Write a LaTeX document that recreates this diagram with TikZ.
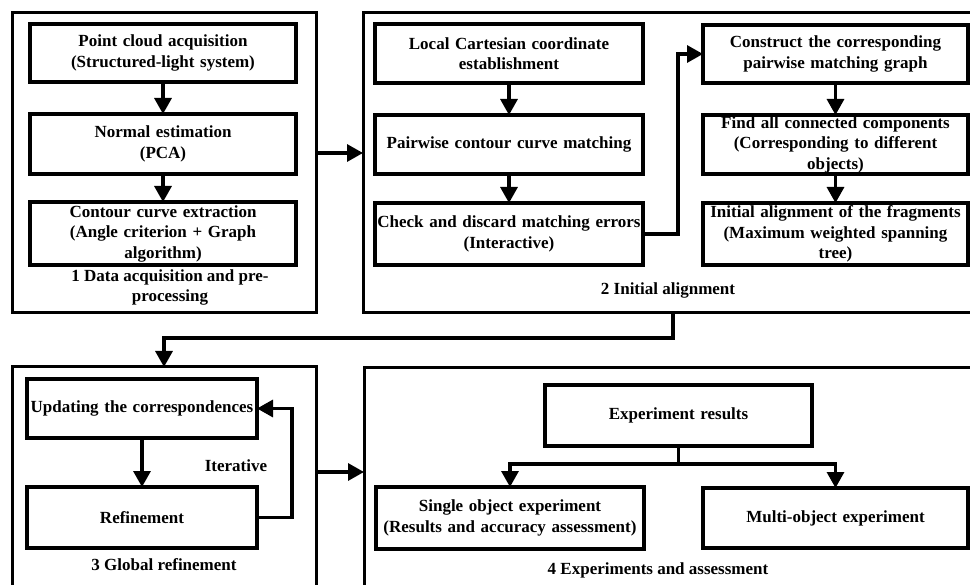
\documentclass[tikz,border=0pt]{standalone}
\usepackage{fontspec}
\setmainfont{Liberation Serif}
\usepackage{tikz}
\usetikzlibrary{arrows.meta,positioning}
\tikzset{
  >={Triangle[length=16pt,width=17pt]},
  grpbox/.style={draw, line width=3pt, inner sep=0pt, outer sep=0pt},
  stepbox/.style={draw, line width=3.2pt, align=center, inner sep=0pt,
    outer sep=0pt, minimum width=266pt, text width=260pt},
  grplabel/.style={align=center},
  flow/.style={->, line width=3.2pt}
}

\begin{document}
\begin{tikzpicture}[x=1pt, y=-1pt, font=\bfseries\fontsize{17}{20.5}\selectfont]
  \useasboundingbox (0,0) rectangle (970,585);

  % stage frames
  \node[grpbox, minimum width=304pt, minimum height=300pt] (g1) at (164,163) {};
  \node[grpbox, minimum width=620pt, minimum height=300pt] (g2) at (673,163) {};
  \node[grpbox, minimum width=304pt, minimum height=233pt] (g3) at (164,483.5) {};
  \node[grpbox, minimum width=611pt, minimum height=232pt] (g4) at (669.5,484) {};

  % 1 data acquisition
  \node[stepbox, minimum height=58pt] (pc) at (163,53)
    {Point cloud acquisition\\(Structured-light system)};
  \node[stepbox, minimum height=60pt, below=32pt of pc] (ne)
    {Normal estimation\\(PCA)};
  \node[stepbox, minimum height=63pt, below=28pt of ne] (ce)
    {Contour curve extraction\\(Angle criterion + Graph\\algorithm)};
  \node[grplabel] (l1) at (170,287.5) {1 Data acquisition and pre-\\processing};

  % 2 initial alignment
  \node[stepbox, minimum width=268pt, text width=264pt, minimum height=59pt] (lc) at (509,53.5)
    {Local Cartesian coordinate\\establishment};
  \node[stepbox, minimum width=268pt, text width=264pt, minimum height=59pt, below=32pt of lc] (pm)
    {Pairwise contour curve matching};
  \node[stepbox, minimum width=268pt, text width=264pt, minimum height=62pt, below=29pt of pm] (cd)
    {Check and discard matching errors\\(Interactive)};
  \node[stepbox, minimum width=265pt, text width=261pt, minimum height=58pt] (cg) at (835.5,54)
    {Construct the corresponding\\pairwise matching graph};
  \node[stepbox, minimum width=265pt, text width=261pt, minimum height=59pt, below=32pt of cg] (fc)
    {Find all connected components\\(Corresponding to different\\objects)};
  \node[stepbox, minimum width=265pt, text width=261pt, minimum height=62pt, below=29pt of fc] (ia)
    {Initial alignment of the fragments\\(Maximum weighted spanning\\tree)};
  \node (l2) at (668,290) {2 Initial alignment};

  % 3 global refinement
  \node[stepbox, minimum width=230pt, text width=226pt, minimum height=59pt] (ud) at (142,408.5)
    {Updating the correspondences};
  \node[stepbox, minimum width=230pt, text width=226pt, minimum height=61pt, below=49pt of ud] (rf)
    {Refinement};
  \node (it) at (236,466) {Iterative};
  \node (l3) at (164,565) {3 Global refinement};

  % 4 experiments
  \node[stepbox, minimum width=267pt, minimum height=61pt] (er) at (678.5,415.5)
    {Experiment results};
  \node[stepbox, minimum width=268pt, text width=264pt, minimum height=62pt] (so) at (510,518)
    {Single object experiment\\(Results and accuracy assessment)};
  \node[stepbox, minimum width=265pt, minimum height=60pt] (mo) at (835.5,518)
    {Multi-object experiment};
  \node (l4) at (658,570) {4 Experiments and assessment};

  \draw[flow] (pc) -- (ne);
  \draw[flow] (ne) -- (ce);
  \draw[flow] (lc) -- (pm);
  \draw[flow] (pm) -- (cd);
  \draw[flow] (cd.east) -- ++(35,0) |- (cg.west);
  \draw[flow] (cg) -- (fc);
  \draw[flow] (fc) -- (ia);
  \draw[flow] ([yshift=10pt]g1.east) -- ([yshift=10pt]g1.east -| g2.west);
  \draw[flow] (g2.south) -- ++(0,25) -| (g3.north);
  \draw[flow] (ud) -- (rf);
  \draw[flow] (rf.east) -- ++(35,0) |- (ud.east);
  \draw[flow] ([yshift=11.5pt]g3.east) -- ([yshift=11.5pt]g3.east -| g4.west);
  \draw[flow] (er.south) -- ++(0,18) -| (so.north);
  \draw[flow] (er.south) -- ++(0,18) -| (mo.north);
\end{tikzpicture}
\end{document}
